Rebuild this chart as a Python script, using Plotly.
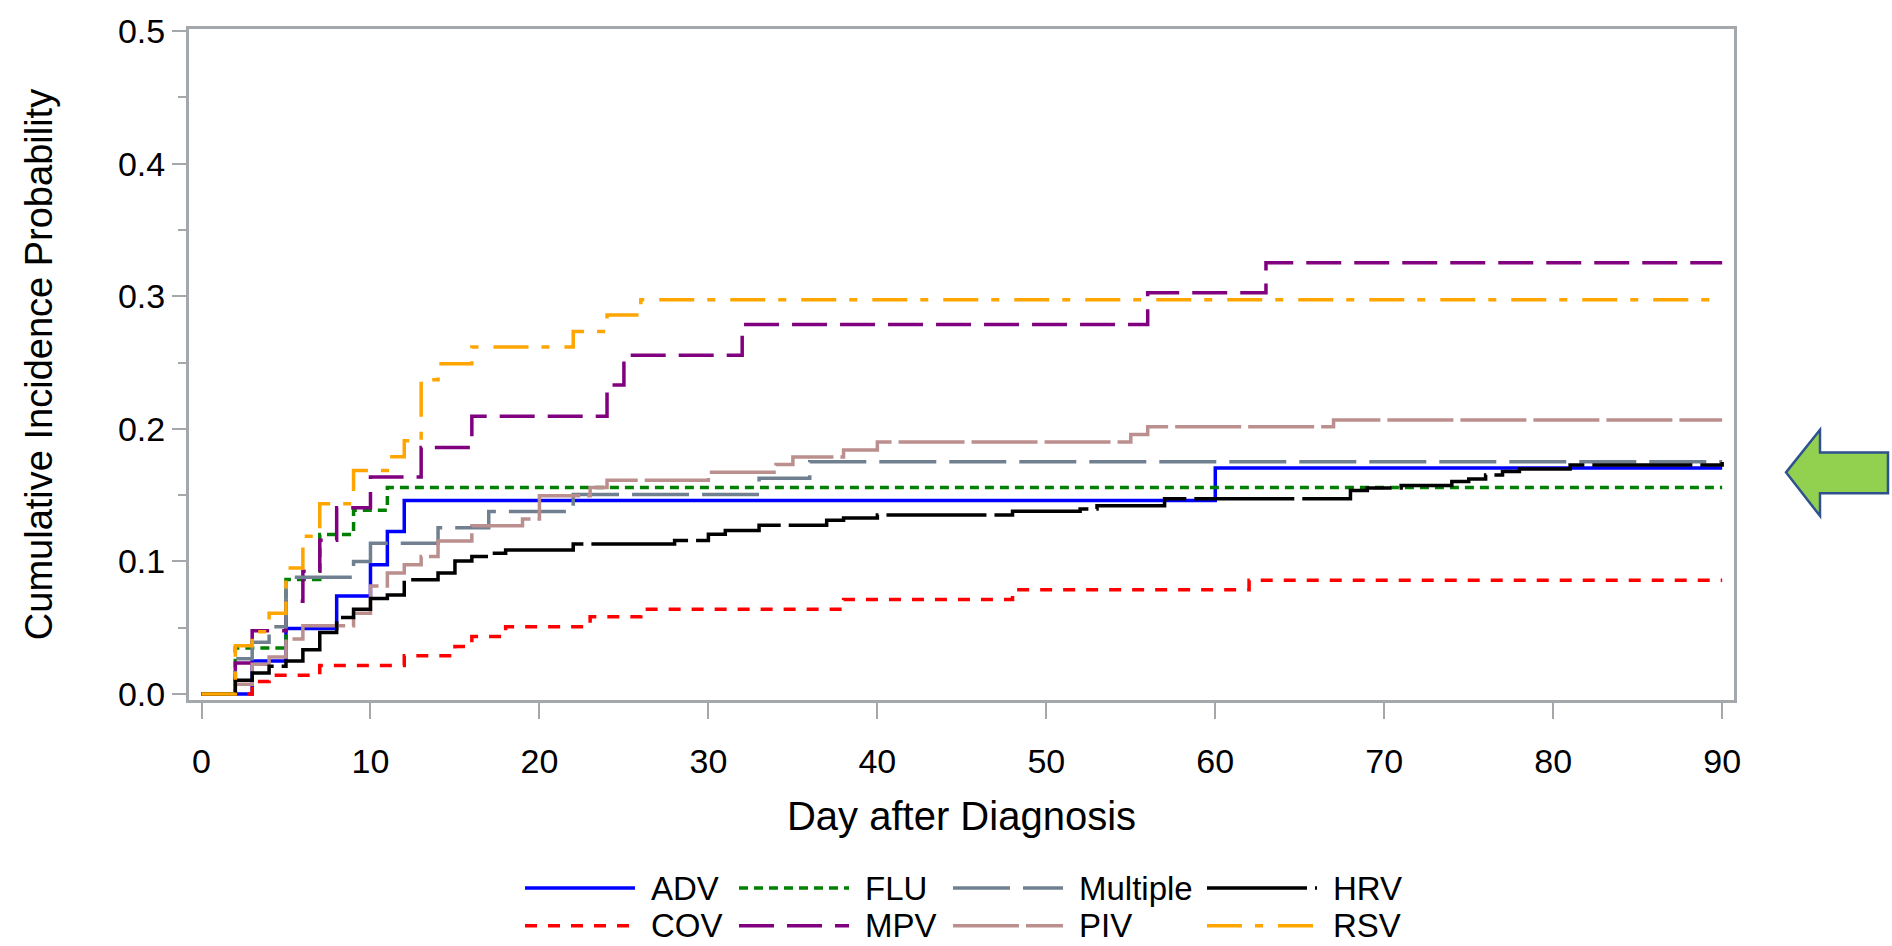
import plotly.graph_objects as go

# ---------------- data (step functions: day of jump, cumulative incidence after jump)
adv_days = [0, 3, 5, 8, 10, 11, 12, 60, 90]
adv_vals = [0, 0.025, 0.0495, 0.074, 0.0975, 0.1225, 0.146, 0.1705, 0.1705]

cov_days = [0, 3, 4, 7, 12, 15, 16, 18, 23, 26, 38, 48, 62, 90]
cov_vals = [0, 0.0095, 0.0142, 0.0216, 0.0288, 0.0358, 0.0433, 0.0508, 0.0582, 0.064, 0.0713, 0.0787, 0.0858, 0.0858]

flu_days = [0, 2, 5, 7, 9, 11, 90]
flu_vals = [0, 0.0348, 0.0864, 0.1203, 0.1385, 0.1558, 0.1558]

mpv_days = [0, 2, 3, 5, 6, 7, 8, 10, 13, 16, 24, 25, 32, 56, 63, 90]
mpv_vals = [0, 0.0234, 0.0478, 0.070, 0.0926, 0.116, 0.1405, 0.1636, 0.186, 0.2095, 0.233, 0.2555, 0.2786, 0.3026, 0.3252, 0.3252]

mult_days = [0, 2, 3, 4, 5, 9, 10, 14, 17, 22, 33, 36, 90]
mult_vals = [0, 0.0266, 0.039, 0.0507, 0.088, 0.100, 0.1137, 0.1254, 0.1377, 0.1504, 0.1628, 0.1751, 0.1751]

piv_days = [0, 2, 3, 4, 5, 6, 9, 10, 11, 12, 13, 14, 16, 19, 20, 23, 24, 30, 34, 35, 38, 40, 55, 56, 67, 90]
piv_vals = [0, 0.0073, 0.0224, 0.028, 0.0415, 0.0515, 0.061, 0.0814, 0.0913, 0.0975, 0.1037, 0.1154, 0.1269,
            0.132, 0.1495, 0.1558, 0.1612, 0.1672, 0.173, 0.1788, 0.184, 0.190, 0.1957, 0.2016, 0.2067, 0.2067]

hrv_days = [0, 2, 3, 4, 5, 6, 7, 8, 9, 10, 11, 12, 14, 15, 16, 17, 18, 22, 28, 30, 31, 33, 37, 38, 40,
            48, 52, 53, 57, 68, 69, 71, 74, 75, 76, 77, 78, 81, 90]
hrv_vals = [0, 0.0104, 0.0158, 0.021, 0.025, 0.0333, 0.0464, 0.0577, 0.0639, 0.072, 0.0747, 0.0862, 0.0913,
            0.1004, 0.1037, 0.1062, 0.1087, 0.1132, 0.1157, 0.1204, 0.1234, 0.1273, 0.131, 0.1328, 0.135,
            0.1378, 0.1396, 0.142, 0.1472, 0.1535, 0.1553, 0.1573, 0.1603, 0.1622, 0.1652, 0.1678, 0.1697,
            0.1728, 0.175]

rsv_days = [0, 2, 3, 4, 5, 6, 7, 9, 11, 12, 13, 14, 16, 22, 24, 26, 90]
rsv_vals = [0, 0.0364, 0.047, 0.061, 0.095, 0.119, 0.1435, 0.1686, 0.179, 0.191, 0.237, 0.249, 0.2617,
            0.2733, 0.2858, 0.2973, 0.2973]

x_ticks = [0, 10, 20, 30, 40, 50, 60, 70, 80, 90]
y_ticks = [0.0, 0.1, 0.2, 0.3, 0.4, 0.5]

# ---------------- styles
series = [
    # name, days, vals, color, dash
    ("ADV", adv_days, adv_vals, "#0000FF", "solid"),
    ("COV", cov_days, cov_vals, "#FF0000", "12px,11px"),
    ("FLU", flu_days, flu_vals, "#008000", "9px,6px"),
    ("MPV", mpv_days, mpv_vals, "#800080", "35px,13px"),
    ("Multiple", mult_days, mult_vals, "#708090", "57px,13px"),
    ("PIV", piv_days, piv_vals, "#BC8F8F", "66px,7px"),
    ("HRV", hrv_days, hrv_vals, "#000000", "100px,8px"),
    ("RSV", rsv_days, rsv_vals, "#FFA500", "35px,13px,8px,15px"),
]
LW = 3.5
FONT = "Liberation Sans, Arial, sans-serif"
FRAME = "#A4A8AC"

fig = go.Figure()
for name, d, v, c, dash in series:
    fig.add_trace(go.Scatter(x=d, y=v, mode="lines", name=name, line_shape="hv",
                             line=dict(color=c, width=LW, dash=dash), showlegend=False))

# plot area in pixels
W, H = 1892, 946
L, R, T, B = 189, 1734, 22, 700


def px_x(X):
    return (X - L) / (R - L)


def px_y(Y):
    return (B - Y) / (B - T)


fig.update_layout(
    width=W, height=H, autosize=False,
    margin=dict(l=L, r=W - R, t=T, b=H - B, pad=0),
    paper_bgcolor="white", plot_bgcolor="white",
    font=dict(family=FONT, color="black", size=34),
    showlegend=False,
)
fig.update_xaxes(
    range=[-0.74, 90.7], tickvals=x_ticks, ticktext=[str(t) for t in x_ticks],
    showgrid=False, zeroline=False, showline=True, mirror=True, linecolor=FRAME, linewidth=3,
    ticks="outside", ticklen=16, tickwidth=2, tickcolor=FRAME, ticklabelstandoff=13,
    tickfont=dict(size=34, family=FONT),
    title=dict(text="Day after Diagnosis", font=dict(size=40, family=FONT), standoff=24),
)
fig.update_yaxes(
    range=[-0.0045, 0.5015], tickvals=y_ticks, ticktext=[f"{t:.1f}" for t in y_ticks],
    showgrid=False, zeroline=False, showline=True, mirror=True, linecolor=FRAME, linewidth=3,
    ticks="outside", ticklen=14, tickwidth=2, tickcolor=FRAME,
    minor=dict(tickvals=[0.05, 0.15, 0.25, 0.35, 0.45], ticks="outside", ticklen=8, tickwidth=2, tickcolor=FRAME),
    tickfont=dict(size=34, family=FONT),
    title=dict(text="Cumulative Incidence Probability", font=dict(size=38, family=FONT), standoff=54),
)

# ---------------- custom legend (2 rows x 4 columns)
legend_rows = [["ADV", "FLU", "Multiple", "HRV"], ["COV", "MPV", "PIV", "RSV"]]
col_x = [525, 739, 953, 1207]
row_y = [890, 928]
style = {s[0]: (s[3], s[4]) for s in series}
shapes = []
annotations = []
for ri, row in enumerate(legend_rows):
    for ci, nm in enumerate(row):
        c, dash = style[nm]
        x0 = col_x[ci]
        shapes.append(dict(type="line", xref="paper", yref="paper",
                           x0=px_x(x0), x1=px_x(x0 + 110), y0=px_y(row_y[ri]), y1=px_y(row_y[ri]),
                           line=dict(color=c, width=LW, dash=dash)))
        annotations.append(dict(text=nm, xref="paper", yref="paper", x=px_x(x0 + 124), y=px_y(row_y[ri]),
                                xanchor="left", yanchor="middle", showarrow=False,
                                font=dict(size=33, family=FONT, color="black")))

# ---------------- green block arrow at the right
pts = [(1786, 470), (1820, 427), (1820, 450), (1888, 450), (1888, 491), (1820, 491), (1820, 514)]
path = "M " + " L ".join(f"{px_x(a):.5f},{px_y(b):.5f}" for a, b in pts) + " Z"
shapes.append(dict(type="path", xref="paper", yref="paper", path=path,
                   fillcolor="#92D050", line=dict(color="#2F528F", width=2.5)))

fig.update_layout(shapes=shapes, annotations=annotations)
fig.write_html("out.html")
